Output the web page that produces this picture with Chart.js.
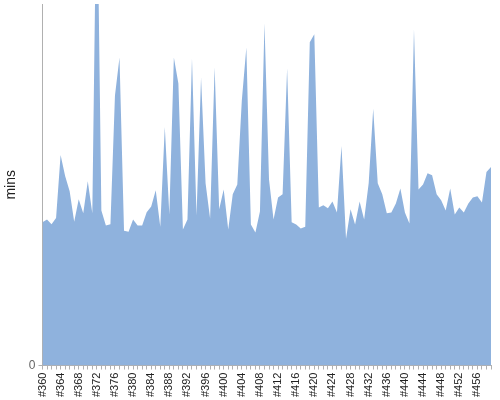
<!DOCTYPE html>
<html>
<head>
<meta charset="utf-8">
<script src="https://cdn.jsdelivr.net/npm/chart.js@4"></script>
<style>
  html, body { margin: 0; padding: 0; background: #fff; }
  #wrap { width: 500px; height: 400px; }
</style>
</head>
<body>
<div id="wrap"><canvas id="chart" width="500" height="400"></canvas></div>
<script>
// build numbers #360 .. #459
const builds = [];
for (let n = 360; n <= 459; n++) builds.push('#' + n);

// duration per build (mins)
const durations = [
    39.6, 40.4, 39.1, 40.8, 58.2, 52.4, 48.2, 39.8, 46.0, 42.1,
    51.0, 42.1, 140.0, 42.9, 38.7, 39.1, 74.7, 85.2, 37.3, 37.0,
    40.4, 38.7, 38.7, 42.4, 44.0, 48.5, 38.4, 66.0, 41.8, 85.2,
    78.0, 37.6, 40.4, 85.0, 41.5, 79.7, 50.4, 40.7, 82.5, 43.2,
    48.7, 37.6, 47.4, 50.1, 73.3, 88.0, 39.0, 36.8, 42.6, 94.7,
    51.5, 40.4, 46.5, 47.4, 82.2, 39.6, 39.0, 37.9, 38.4, 89.4,
    91.6, 43.7, 44.3, 43.5, 45.4, 42.3, 60.7, 35.1, 43.2, 39.0,
    45.4, 40.4, 50.4, 71.0, 50.4, 47.4, 42.1, 42.3, 44.8, 49.0,
    42.3, 39.3, 93.0, 48.7, 50.1, 53.2, 52.6, 47.4, 45.7, 42.9,
    49.0, 41.8, 43.7, 42.3, 44.8, 46.5, 46.8, 45.1, 53.5, 54.9
];

const yTicks = [0];

const fillColor = 'rgb(143, 178, 221)';
const axisColor = '#b0b0b0';

const whiteBg = {
    id: 'whiteBg',
    beforeDraw(chart) {
        const ctx = chart.ctx;
        ctx.save();
        ctx.fillStyle = '#fff';
        ctx.fillRect(0, 0, chart.width, chart.height);
        ctx.restore();
    }
};

new Chart(document.getElementById('chart'), {
    type: 'line',
    data: {
        labels: builds,
        datasets: [{
            label: 'mins',
            data: durations,
            borderWidth: 0,
            borderColor: fillColor,
            backgroundColor: fillColor,
            pointRadius: 0,
            tension: 0,
            fill: 'origin'
        }]
    },
    options: {
        responsive: false,
        animation: false,
        layout: { padding: { left: 3, right: 9, top: 4, bottom: 0 } },
        plugins: {
            legend: { display: false },
            tooltip: { enabled: false }
        },
        scales: {
            x: {
                offset: false,
                afterFit: function(axis) {
                    axis.paddingLeft = 0;
                    axis.paddingRight = 0;
                },
                grid: {
                    display: true,
                    drawOnChartArea: false,
                    color: axisColor,
                    tickLength: 4
                },
                border: { color: axisColor },
                ticks: {
                    autoSkip: false,
                    minRotation: 90,
                    maxRotation: 90,
                    padding: 3,
                    color: '#222',
                    font: { family: 'Liberation Sans, Arial, sans-serif', size: 11 },
                    callback: function(value, index) {
                        return index % 4 === 0 ? builds[index] : '';
                    }
                }
            },
            y: {
                min: 0,
                max: 100,
                afterBuildTicks: function(axis) {
                    axis.ticks = yTicks.map(v => ({ value: v }));
                },
                afterFit: function(axis) {
                    axis.paddingTop = 0;
                    axis.paddingBottom = 0;
                },
                grid: {
                    display: true,
                    drawOnChartArea: false,
                    color: axisColor,
                    tickLength: 4
                },
                border: { color: axisColor },
                ticks: {
                    color: '#666',
                    padding: 3,
                    font: { family: 'Liberation Sans, Arial, sans-serif', size: 12 }
                },
                title: {
                    display: true,
                    text: 'mins',
                    color: '#222',
                    padding: { top: 0, bottom: 6 },
                    font: { family: 'Liberation Sans, Arial, sans-serif', size: 14 }
                }
            }
        }
    },
    plugins: [whiteBg]
});
</script>
</body>
</html>
